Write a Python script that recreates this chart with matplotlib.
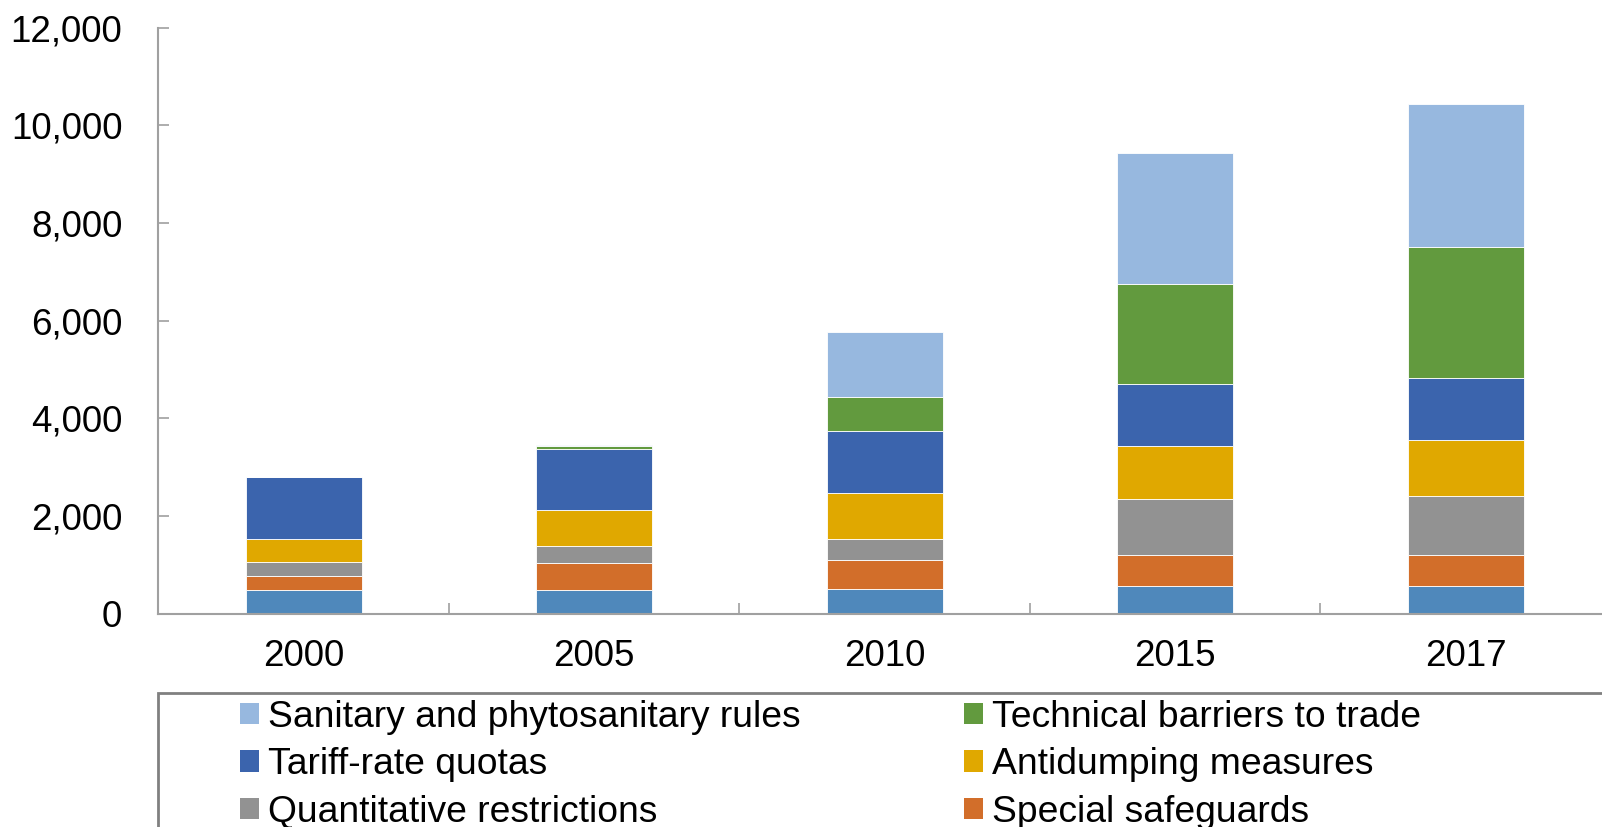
import matplotlib
matplotlib.use("Agg")
import matplotlib.pyplot as plt
from matplotlib.patches import Patch, Rectangle
from matplotlib.ticker import FuncFormatter, FixedLocator

plt.rcParams["font.family"] = ["Liberation Sans", "DejaVu Sans"]

# Data
years = ["2000", "2005", "2010", "2015", "2017"]
export_subsidies = [480, 485, 505, 565, 565]
special_safeguards = [290, 550, 600, 635, 635]
quantitative = [295, 350, 420, 1150, 1200]
antidumping = [470, 730, 940, 1085, 1155]
tariff_rate_quotas = [1260, 1260, 1270, 1270, 1270]
technical_barriers = [0, 50, 700, 2040, 2680]
sanitary = [0, 35, 1340, 2680, 2930]

series = [
    ("Export subsidies", export_subsidies, "#4F88BB"),
    ("Special safeguards", special_safeguards, "#D26E2A"),
    ("Quantitative restrictions", quantitative, "#929292"),
    ("Antidumping measures", antidumping, "#E0A800"),
    ("Tariff-rate quotas", tariff_rate_quotas, "#3B64AD"),
    ("Technical barriers to trade", technical_barriers, "#629A3E"),
    ("Sanitary and phytosanitary rules", sanitary, "#97B8DF"),
]

fig = plt.figure(figsize=(16.02, 8.27), dpi=100)
W, H = 1602, 827
ax_left, ax_right, ax_top, ax_bottom = 158.4, 1611, 27.6, 613.5
ax = fig.add_axes([ax_left / W, 1 - ax_bottom / H,
                   (ax_right - ax_left) / W, (ax_bottom - ax_top) / H])

x = list(range(len(years)))
bottom = [0] * len(years)
handles = {}
for name, vals, color in series:
    ax.bar(x, vals, width=0.4, bottom=bottom, color=color,
           edgecolor="white", linewidth=0.6)
    bottom = [b + v for b, v in zip(bottom, vals)]
    handles[name] = Patch(facecolor=color, edgecolor="none", label=name)

ax.set_xlim(-0.5, 4.5)
ax.set_ylim(0, 12000)
ax.set_yticks(range(0, 12001, 2000))
ax.yaxis.set_major_formatter(FuncFormatter(lambda v, p: f"{int(v):,}"))
ax.set_xticks(x)
ax.set_xticklabels(years)
ax.xaxis.set_minor_locator(FixedLocator([0.5, 1.5, 2.5, 3.5]))

ax.tick_params(axis="y", direction="in", length=8, width=1.2, color="#A0A0A0",
               labelsize=26.5, pad=26)
ax.tick_params(axis="x", which="major", length=0, labelsize=26.5, pad=18)
ax.tick_params(axis="x", which="minor", direction="in", length=8, width=1.2,
               color="#A0A0A0")

for s in ["top", "right"]:
    ax.spines[s].set_visible(False)
for s in ["left", "bottom"]:
    ax.spines[s].set_color("#A0A0A0")
    ax.spines[s].set_linewidth(1.5)

# legend frame, cut off by the figure edge like the original
fig.patches.append(Rectangle((158.4 / W, -0.2), 1.2, (1 - 692.7 / H) + 0.2,
                             transform=fig.transFigure, fill=False,
                             edgecolor="#808080", linewidth=2, clip_on=False))

# the last row of the original legend falls outside the picture
order = ["Sanitary and phytosanitary rules", "Tariff-rate quotas",
         "Quantitative restrictions",
         "Technical barriers to trade", "Antidumping measures",
         "Special safeguards"]
fig.legend([handles[n] for n in order], order, ncol=2, frameon=False,
           loc="upper left", bbox_to_anchor=(240 / W, 1 - 700 / H),
           fontsize=26.8, handlelength=0.5, handleheight=0.5,
           handletextpad=0.25, columnspacing=4.4, labelspacing=0.33,
           borderpad=0, borderaxespad=0)

fig.savefig("out.png", dpi=100)
